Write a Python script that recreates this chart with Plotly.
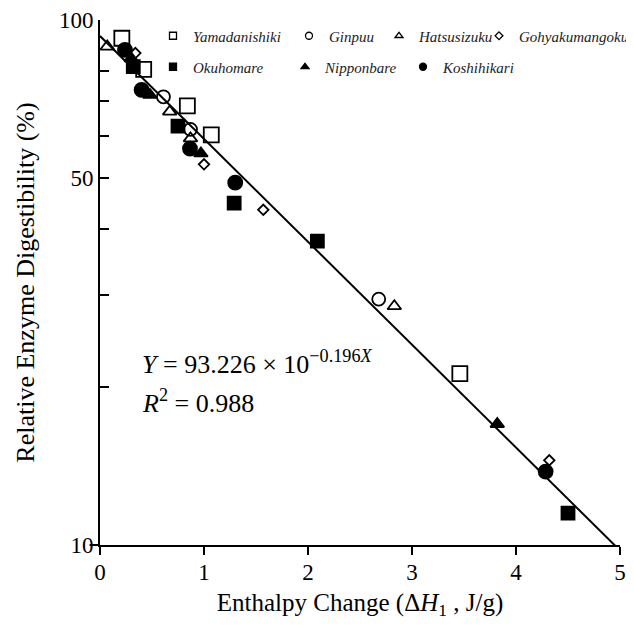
import plotly.graph_objects as go

# ---- data ----
yama_x = [0.21, 0.42, 0.84, 1.07, 3.46]
yama_y = [92.3, 80.5, 68.6, 60.4, 21.2]

ginpuu_x = [0.61, 0.87, 2.68]
ginpuu_y = [71.4, 61.9, 29.4]

hatsu_x = [0.07, 0.67, 0.87, 2.83]
hatsu_y = [89.0, 66.9, 59.5, 28.5]

gohya_x = [0.34, 1.00, 1.57, 4.32]
gohya_y = [86.5, 53.1, 43.5, 14.5]

okuho_x = [0.32, 0.75, 1.29, 2.09, 4.50]
okuho_y = [81.5, 62.8, 44.8, 37.9, 11.5]

nippon_x = [0.30, 0.48, 0.97, 3.82]
nippon_y = [84.5, 72.0, 55.7, 17.0]

koshi_x = [0.24, 0.40, 0.865, 1.30, 4.285]
koshi_y = [87.7, 73.6, 56.9, 49.0, 13.8]

fit_a = 93.226
fit_b = -0.196
fit_x = [0, 5]

y_label_vals = [10, 50, 100]
y_minor_vals = [20, 30, 40, 50, 60, 70, 80]
x_tick_vals = [0, 1, 2, 3, 4, 5]

FONT = "Liberation Serif, Times New Roman, serif"

series = [
    ("Yamadanishiki", yama_x, yama_y, "square-open", 15, 7, "legend"),
    ("Ginpuu", ginpuu_x, ginpuu_y, "circle-open", 13, 7, "legend2"),
    ("Hatsusizuku", hatsu_x, hatsu_y, "triangle-up-open", 12, 7, "legend3"),
    ("Gohyakumangoku", gohya_x, gohya_y, "diamond-open", 8, 6, "legend4"),
    ("Okuhomare", okuho_x, okuho_y, "square", 13, 7, "legend5"),
    ("Nipponbare", nippon_x, nippon_y, "triangle-up", 12, 7, "legend6"),
    ("Koshihikari", koshi_x, koshi_y, "circle", 14, 7, "legend7"),
]

fig = go.Figure()

for name, xs, ys, sym, size, lsize, lg in series:
    fig.add_trace(go.Scatter(
        x=xs, y=ys, mode="markers", name=name, showlegend=False,
        marker=dict(symbol=sym, size=size, color="black",
                    line=dict(color="black", width=1.8)),
    ))

fit_y = [fit_a * 10 ** (fit_b * v) for v in fit_x]
fig.add_trace(go.Scatter(
    x=fit_x, y=fit_y, mode="lines", showlegend=False,
    line=dict(color="black", width=2),
))

# legend entries (small symbols), one legend per entry to place them like the reference
legend_pos = {
    "legend": (174, 36), "legend2": (310, 36), "legend3": (400, 36), "legend4": (500, 36),
    "legend5": (174, 67), "legend6": (306, 67), "legend7": (424, 67),
}
for name, xs, ys, sym, size, lsize, lg in series:
    fig.add_trace(go.Scatter(
        x=[None], y=[None], mode="markers", name=name, showlegend=True, legend=lg,
        marker=dict(symbol=sym, size=lsize, color="black",
                    line=dict(color="black", width=1.3)),
    ))

# plot area in screen pixels (page body has an 8px margin)
OFF = 8
L, T, W, H = 100, 20, 520, 525
legend_layout = {}
for lg, (mx, my) in legend_pos.items():
    legend_layout[lg] = dict(
        x=(mx - 21 - L) / W, y=1 - (my - T) / H, xanchor="left", yanchor="middle",
        bgcolor="rgba(0,0,0,0)", borderwidth=0, itemwidth=30,
        font=dict(family=FONT, size=15, color="#222", style="italic"),
    )

fig.update_layout(
    width=634, height=634,
    margin=dict(l=L - OFF, r=634 - (L - OFF) - W, t=T - OFF, b=634 - (T - OFF) - H,
                autoexpand=False),
    paper_bgcolor="white", plot_bgcolor="white",
    font=dict(family=FONT, color="black"),
    **legend_layout,
)

fig.update_xaxes(
    range=[0, 5], tickvals=x_tick_vals, ticks="outside", ticklen=8, tickwidth=2,
    tickcolor="black", showline=True, linewidth=2, linecolor="black", automargin=False,
    showgrid=False, zeroline=False, tickfont=dict(family=FONT, size=23),
    ticklabelstandoff=-3,
    title=dict(text="Enthalpy Change (Δ<i>H</i><sub>1</sub> , J/g)",
               font=dict(family=FONT, size=25), standoff=10),
)
fig.update_yaxes(
    type="log", range=[1, 2], tickvals=y_label_vals, ticktext=[str(v) for v in y_label_vals],
    ticks="", showline=True, linewidth=2, linecolor="black", automargin=False,
    showgrid=False, zeroline=False, tickfont=dict(family=FONT, size=23),
    minor=dict(tickmode="array", tickvals=y_minor_vals, ticks="inside", ticklen=9,
               tickwidth=2, tickcolor="black", showgrid=False),
    title=dict(text="Relative Enzyme Digestibility (%)", font=dict(family=FONT, size=26),
               standoff=17),
)

# small leftward extension of the baseline at 10
fig.add_shape(type="line", xref="paper", yref="paper", x0=-0.02, x1=0, y0=0, y1=0,
              line=dict(color="black", width=2))

fig.add_annotation(
    xref="paper", yref="paper", x=(140 - L) / W, y=1 - (362 - T) / H,
    xanchor="left", yanchor="middle", showarrow=False,
    text="<i>Y</i> = 93.226 × 10<sup>−0.196<i>X</i></sup>",
    font=dict(family=FONT, size=26, color="black"),
)
fig.add_annotation(
    xref="paper", yref="paper", x=(140 - L) / W, y=1 - (401 - T) / H,
    xanchor="left", yanchor="middle", showarrow=False,
    text="<i>R</i><sup>2</sup> = 0.988",
    font=dict(family=FONT, size=26, color="black"),
)

fig.write_html("out.html")
